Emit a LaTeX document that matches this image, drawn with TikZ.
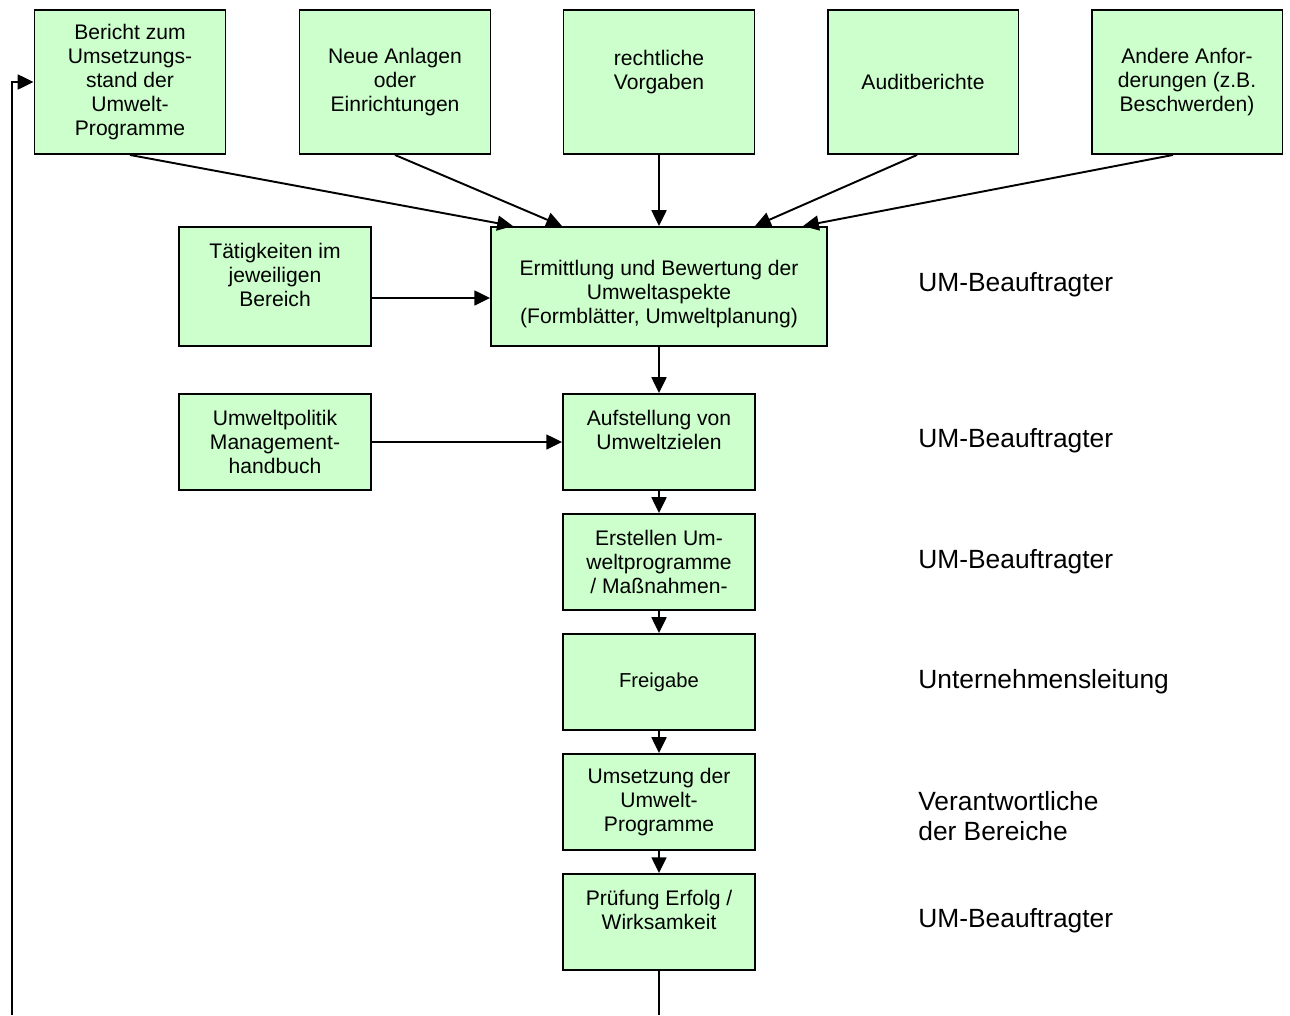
\documentclass[tikz,border=0pt]{standalone}
\usepackage{fontspec}
\setmainfont{Liberation Sans}
\usetikzlibrary{arrows.meta}
\definecolor{boxgreen}{RGB}{204,255,204}
\tikzset{
  box/.style={draw=black, line width=1.1pt, fill=boxgreen, align=center,
    inner sep=0pt, font={\fontsize{12}{13.6}\selectfont}},
  topbox/.style={box, minimum width=3.82cm, minimum height=2.88cm},
  midbox/.style={box, minimum width=3.84cm, minimum height=1.92cm},
  resp/.style={anchor=west, align=left, inner sep=0pt, font={\fontsize{15}{17}\selectfont}},
  conn/.style={line width=1.1pt, -{Triangle[length=9pt,width=8.5pt]}},
  plain/.style={line width=1.1pt}
}
\begin{document}
\begin{tikzpicture}[x=0.02cm, y=-0.02cm]
\useasboundingbox (0,0) rectangle (1290,1015);

% top row
\node[topbox] (b1) at (130,82) {Bericht zum\\Umsetzungs-\\stand der\\Umwelt-\\Programme};
\node[topbox] (b2) at (395,82) {Neue Anlagen\\oder\\Einrichtungen};
\node[topbox] (b3) at (659,82) {rechtliche\\Vorgaben\\~};
\node[topbox] (b4) at (923,82) {Auditberichte};
\node[topbox] (b5) at (1187,82) {Andere Anfor-\\derungen (z.B.\\Beschwerden)};

% second row
\node[box, minimum width=3.84cm, minimum height=2.38cm] (tat) at (275,286.5) {T\"atigkeiten im\\jeweiligen\\Bereich\\~};
\node[box, minimum width=6.72cm, minimum height=2.38cm] (erm) at (659,286.5) {\rule{0pt}{17.5pt}Ermittlung und Bewertung der\\Umweltaspekte\\(Formbl\"atter, Umweltplanung)};

% column
\node[midbox] (pol) at (275,442) {Umweltpolitik\\Management-\\handbuch};
\node[midbox] (auf) at (659,442) {Aufstellung von\\Umweltzielen\\~};
\node[midbox] (erst) at (659,562) {Erstellen Um-\\weltprogramme\\/ Ma\ss nahmen-};
\node[midbox, font={\fontsize{11.5}{13.6}\selectfont}] (frei) at (659,682) {Freigabe};
\node[midbox] (ums) at (659,802) {Umsetzung der\\Umwelt-\\Programme};
\node[midbox] (pruef) at (659,922) {Pr\"ufung Erfolg /\\Wirksamkeit\\~};

% responsibilities
\node[resp] (r1) at (918,285) {UM-Beauftragter};
\node[resp] (r2) at (918,441) {UM-Beauftragter};
\node[resp] (r3) at (918,562) {UM-Beauftragter};
\node[resp] (r4) at (918,682) {Unternehmensleitung};
\node[resp] (r5) at (918,816) {Verantwortliche\\der Bereiche};
\node[resp] (r6) at (918,921) {UM-Beauftragter};

% arrows into Ermittlung
\draw[conn] (b1.south) -- ([xshift=-2.92cm]erm.north);
\draw[conn] (b2.south) -- ([xshift=-1.94cm]erm.north);
\draw[conn] (b3.south) -- (erm.north);
\draw[conn] ([xshift=-0.12cm]b4.south) -- ([xshift=1.92cm]erm.north);
\draw[conn] ([xshift=-0.28cm]b5.south) -- ([xshift=2.88cm]erm.north);
\draw[conn] ([yshift=-0.23cm]tat.east) -- ([yshift=-0.23cm]erm.west);

% main chain
\draw[conn] (erm.south) -- (auf.north);
\draw[conn] (pol.east) -- (auf.west);
\draw[conn] (auf.south) -- (erst.north);
\draw[conn] (erst.south) -- (frei.north);
\draw[conn] (frei.south) -- (ums.north);
\draw[conn] (ums.south) -- (pruef.north);

% feedback loop (cut off at bottom edge)
\coordinate (fbA) at (659,1015);
\coordinate (fbB) at (12,1015);
\draw[plain] (pruef.south) -- (fbA);
\draw[conn] (fbB) |- (b1.west);
\end{tikzpicture}
\end{document}
